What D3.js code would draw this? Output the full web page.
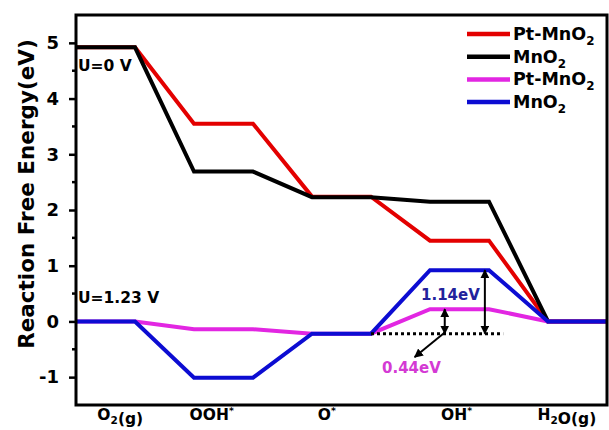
<!DOCTYPE html>
<html>
<head>
<meta charset="utf-8">
<script src="https://cdn.jsdelivr.net/npm/d3@7"></script>
<style>
  body { margin: 0; background: #fff; }
  text { font-family: "DejaVu Sans", sans-serif; font-weight: bold; }
</style>
</head>
<body>
<svg id="chart" width="609" height="430"></svg>
<script>
// reaction steps: each intermediate is a plateau between two points
const steps = [0, 1, 2, 3, 4, 5, 6, 7, 8, 9]
const pt_u0 = [4.92, 4.92, 3.55, 3.55, 2.24, 2.24, 1.45, 1.45, 0, 0]
const mn_u0 = [4.92, 4.92, 2.69, 2.69, 2.23, 2.23, 2.15, 2.15, 0, 0]
const pt_u123 = [0, 0, -0.14, -0.14, -0.22, -0.22, 0.22, 0.22, 0, 0]
const mn_u123 = [0, 0, -1.01, -1.01, -0.22, -0.22, 0.92, 0.92, 0, 0]
const series_values = [pt_u0, mn_u0, pt_u123, mn_u123]
const series_names = ['Pt-MnO_2', 'MnO_2', 'Pt-MnO_2', 'MnO_2']
const series_colors = ['#e30000', '#000000', '#e226e2', '#0c0cd2']

const x_labels = ['O_2(g)', 'OOH^*', 'O^*', 'OH^*', 'H_2O(g)']
const x_label_pos = [0.75, 2.3, 4.25, 6.45, 8.32]
const y_ticks = [-1, 0, 1, 2, 3, 4, 5]
const y_minor = [-0.5, 0.5, 1.5, 2.5, 3.5, 4.5]

const svg = d3.select('#chart')
const plot_left = 76, plot_right = 607, plot_top = 15, plot_bottom = 405

const x = d3.scaleLinear().domain([0, 9]).range([plot_left, plot_right])
const y = d3.scaleLinear().domain([-1.5, 5.5]).range([plot_bottom, plot_top])

// text with _sub and ^sup parts
function rich_text(sel, str, size) {
  const parts = str.split(/([_^].)/)
  parts.forEach(p => {
    if (!p) return
    if (p[0] == '_') {
      sel.append('tspan').attr('font-size', size * 0.68).attr('dy', size * 0.28).text(p[1])
      sel.append('tspan').attr('dy', -size * 0.28).text('')
    } else if (p[0] == '^') {
      sel.append('tspan').attr('font-size', size * 0.6).attr('dy', -size * 0.38).text(p[1])
      sel.append('tspan').attr('dy', size * 0.38).text('')
    } else {
      sel.append('tspan').text(p)
    }
  })
}

// y axis
const y_axis = svg.append('g').attr('transform', `translate(${plot_left},0)`)
  .call(d3.axisLeft(y).tickValues(y_ticks).tickSize(7).tickFormat(d3.format('d')))
y_axis.select('.domain').remove()
y_axis.selectAll('.tick line').attr('stroke', '#000').attr('stroke-width', 2.5)
y_axis.selectAll('.tick text').attr('font-size', 18).attr('x', -17).attr('fill', '#000')
  .attr('font-family', '"DejaVu Sans", sans-serif').attr('font-weight', 'bold')
  .text(d => d < 0 ? '-' + Math.abs(d) : d)

svg.append('g').selectAll('line').data(y_minor).join('line')
  .attr('x1', plot_left - 4).attr('x2', plot_left)
  .attr('y1', d => y(d)).attr('y2', d => y(d))
  .attr('stroke', '#000').attr('stroke-width', 2.5)

svg.append('text')
  .attr('transform', 'translate(34,194) rotate(-90)')
  .attr('text-anchor', 'middle').attr('font-size', 21.5)
  .text('Reaction Free Energy(eV)')

// x labels
svg.append('g').selectAll('text').data(x_labels).join('text')
  .attr('x', (d, i) => x(x_label_pos[i])).attr('y', 420)
  .attr('text-anchor', 'middle').attr('font-size', 15.5)
  .each(function (d) { rich_text(d3.select(this), d, 15.5) })

// series
const line = d3.line().x((d, i) => x(steps[i])).y(d => y(d))
series_values.forEach((vals, k) => {
  svg.append('path').datum(vals)
    .attr('d', line)
    .attr('fill', 'none')
    .attr('stroke', series_colors[k])
    .attr('stroke-width', 4)
    .attr('stroke-linejoin', 'miter')
})

// frame
svg.append('rect')
  .attr('x', plot_left).attr('y', plot_top)
  .attr('width', plot_right - plot_left).attr('height', plot_bottom - plot_top)
  .attr('fill', 'none').attr('stroke', '#000').attr('stroke-width', 3)

// potential labels
svg.append('text').attr('x', 78).attr('y', 71).attr('font-size', 15.5).text('U=0 V')
svg.append('text').attr('x', 78).attr('y', 303).attr('font-size', 15.5).text('U=1.23 V')

// legend
const legend = svg.append('g')
series_names.forEach((name, k) => {
  const ly = 34 + k * 22.7
  legend.append('line')
    .attr('x1', 467).attr('x2', 510).attr('y1', ly).attr('y2', ly)
    .attr('stroke', series_colors[k]).attr('stroke-width', 4.5)
  const t = legend.append('text').attr('x', 513).attr('y', ly + 6).attr('font-size', 17.5)
  rich_text(t, name, 17.5)
})

// annotations
const defs = svg.append('defs')
defs.append('marker').attr('id', 'head')
  .attr('viewBox', '0 0 10 10').attr('refX', 9).attr('refY', 5)
  .attr('markerWidth', 4.5).attr('markerHeight', 4.5)
  .attr('markerUnits', 'strokeWidth').attr('orient', 'auto-start-reverse')
  .append('path').attr('d', 'M0,0L10,5L0,10Z').attr('fill', '#000')

const base_level = -0.22
svg.append('line')
  .attr('x1', x(5)).attr('x2', x(7.24))
  .attr('y1', y(base_level)).attr('y2', y(base_level))
  .attr('stroke', '#000').attr('stroke-width', 3).attr('stroke-dasharray', '3,3')

function double_arrow(xv, y0, y1) {
  svg.append('line')
    .attr('x1', x(xv)).attr('x2', x(xv))
    .attr('y1', y(y0)).attr('y2', y(y1))
    .attr('stroke', '#000').attr('stroke-width', 2)
    .attr('marker-start', 'url(#head)').attr('marker-end', 'url(#head)')
}
double_arrow(6.93, 0.92, base_level)
double_arrow(6.25, 0.22, base_level)

svg.append('line')
  .attr('x1', x(6.25)).attr('y1', y(-0.2))
  .attr('x2', x(5.74)).attr('y2', y(-0.64))
  .attr('stroke', '#000').attr('stroke-width', 2)
  .attr('marker-end', 'url(#head)')

svg.append('text').attr('x', 421).attr('y', 300).attr('font-size', 15)
  .attr('fill', '#22229c').text('1.14eV')
svg.append('text').attr('x', 382).attr('y', 373).attr('font-size', 15)
  .attr('fill', '#d43ad4').text('0.44eV')
</script>
</body>
</html>
